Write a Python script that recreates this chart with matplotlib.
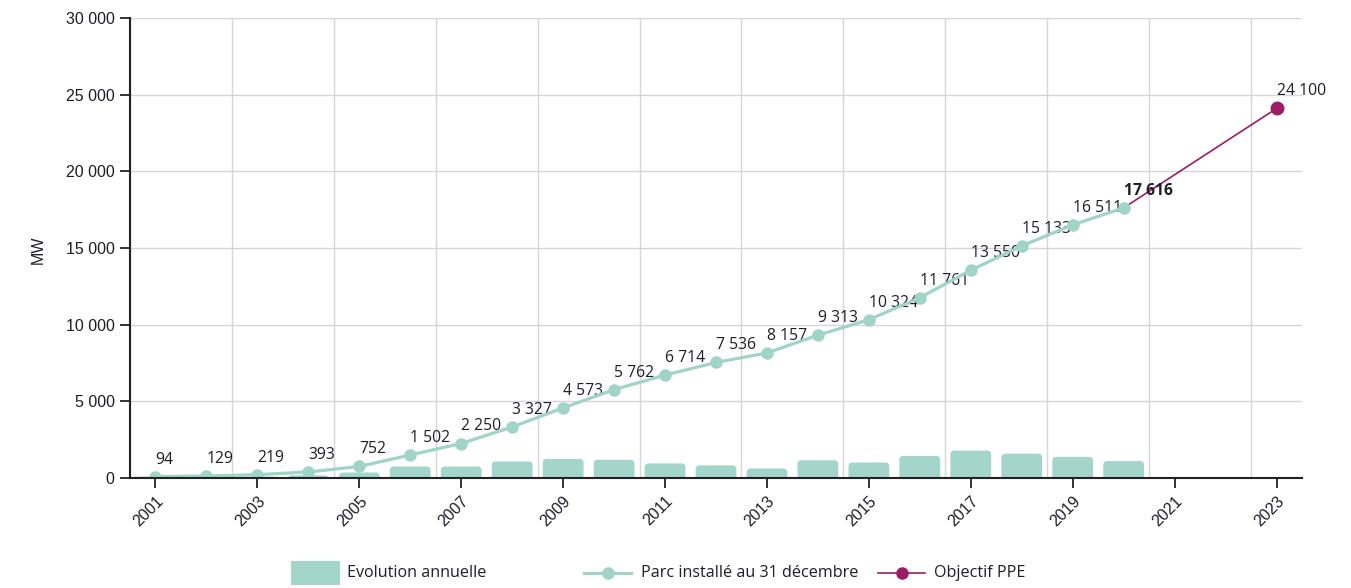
import numpy as np
import matplotlib
matplotlib.use("Agg")
import matplotlib.pyplot as plt
from matplotlib.patches import FancyBboxPatch, Rectangle
from matplotlib.lines import Line2D

# Installed capacity (MW) at 31 December
years = [2001, 2002, 2003, 2004, 2005, 2006, 2007, 2008, 2009, 2010,
         2011, 2012, 2013, 2014, 2015, 2016, 2017, 2018, 2019, 2020]
parc = [94, 129, 219, 393, 752, 1502, 2250, 3327, 4573, 5762,
        6714, 7536, 8157, 9313, 10324, 11761, 13550, 15133, 16511, 17616]
# Yearly additions (MW)
evolution = [94, 35, 90, 174, 359, 750, 748, 1077, 1246, 1189,
             952, 822, 621, 1156, 1011, 1437, 1789, 1583, 1378, 1105]
# PPE target
ppe_years = [2020, 2023]
ppe_values = [17616, 24100]

x_ticks = list(range(2001, 2024, 2))
y_ticks = [0, 5000, 10000, 15000, 20000, 25000, 30000]

TEAL_BAR = "#a3d5ca"
TEAL_LINE = "#9fd4c6"
PURPLE = "#9c1c66"
TXT = "#1e1e28"
LABEL_FONT = ["Open Sans", "DejaVu Sans"]
TICK_FONT = ["Liberation Sans", "DejaVu Sans"]


def fmt(v):
    return f"{v:,}".replace(",", " ")


fig = plt.figure(figsize=(13.51, 5.88), dpi=100)
ax = fig.add_axes([130 / 1351, 1 - 478 / 588, (1302 - 130) / 1351, (478 - 18) / 588])
ax.set_xlim(2000.5, 2023.5)
ax.set_ylim(0, 30000)

# rounded bars: convert pixel radius into data units
ax_w_px = 1302 - 130
ax_h_px = 478 - 18
x_per_px = 23.0 / ax_w_px
y_per_px = 30000.0 / ax_h_px
aspect = y_per_px / x_per_px
radius = 4 * x_per_px
bar_w = 0.8
for yr, h in zip(years, evolution):
    r = min(radius, (h / aspect) / 2) if h > 0 else 0
    patch = FancyBboxPatch((yr - bar_w / 2, -r * aspect), bar_w, h + r * aspect,
                           boxstyle=f"round,pad=0,rounding_size={radius}",
                           mutation_aspect=aspect, facecolor=TEAL_BAR,
                           edgecolor="none", zorder=2)
    ax.add_patch(patch)

# PPE trajectory
ax.plot(ppe_years, ppe_values, color=PURPLE, lw=1.2, zorder=3)
ax.plot(ppe_years[-1:], ppe_values[-1:], "o", color=PURPLE, ms=9, zorder=5)

# installed capacity
ax.plot(years, parc, color=TEAL_LINE, lw=2.3, marker="o", ms=9,
        markeredgewidth=0, zorder=5)

# value labels
for yr, v in zip(years, parc):
    bold = yr == years[-1]
    ax.annotate(fmt(v), (yr, v), xytext=(0, 9), textcoords="offset pixels",
                ha="left", va="bottom", fontsize=11.3, color=TXT,
                family=LABEL_FONT, fontweight="bold" if bold else "normal",
                zorder=4, annotation_clip=False)
ax.annotate(fmt(ppe_values[-1]), (ppe_years[-1], ppe_values[-1]), xytext=(0, 9),
            textcoords="offset pixels", ha="left", va="bottom", fontsize=11.3,
            color=TXT, family=LABEL_FONT, zorder=4, annotation_clip=False)

# axes styling
ax.set_xticks(x_ticks)
ax.set_xticklabels([str(t) for t in x_ticks], rotation=45, ha="right",
                   rotation_mode="anchor", family=TICK_FONT, fontsize=11.5, color=TXT)
ax.set_yticks(y_ticks)
ax.set_yticklabels([fmt(t) for t in y_ticks], family=TICK_FONT, fontsize=11.5, color=TXT)
ax.set_xticks(np.arange(2000.5, 2023, 2), minor=True)
ax.tick_params(axis="x", which="minor", length=0)
ax.tick_params(axis="both", which="major", length=7, width=1.3, color="#222222", pad=4)
ax.grid(True, which="minor", axis="x", color="#d6d6d6", lw=1, zorder=0)
ax.grid(True, which="major", axis="y", color="#d6d6d6", lw=1, zorder=0)
ax.grid(False, which="major", axis="x")
ax.set_axisbelow(True)
for s in ("top", "right"):
    ax.spines[s].set_visible(False)
for s in ("left", "bottom"):
    ax.spines[s].set_color("#222222")
    ax.spines[s].set_linewidth(1.5)
    ax.spines[s].set_zorder(6)

fig.text(38 / 1351, 1 - 250 / 588, "MW", rotation=90, ha="center", va="center",
         fontsize=11.5, color=TXT, family=TICK_FONT)

# legend drawn in figure coordinates
def fx(px):
    return px / 1351


def fy(py):
    return 1 - py / 588


ly = 573
fig.add_artist(Rectangle((fx(291), fy(585)), fx(340) - fx(291), fy(561) - fy(585),
                         transform=fig.transFigure, facecolor=TEAL_BAR, edgecolor="none"))
fig.text(fx(347), fy(ly), "Evolution annuelle", ha="left", va="center",
         fontsize=11.6, color=TXT, family=LABEL_FONT)
fig.add_artist(Line2D([fx(584), fx(631)], [fy(ly), fy(ly)], transform=fig.transFigure,
                      color=TEAL_LINE, lw=2.3))
fig.add_artist(Line2D([fx(608)], [fy(ly)], transform=fig.transFigure, marker="o",
                      ms=9, color=TEAL_LINE, markeredgewidth=0))
fig.text(fx(641), fy(ly), "Parc installé au 31 décembre", ha="left", va="center",
         fontsize=11.6, color=TXT, family=LABEL_FONT)
fig.add_artist(Line2D([fx(878), fx(925)], [fy(ly), fy(ly)], transform=fig.transFigure,
                      color=PURPLE, lw=1.2))
fig.add_artist(Line2D([fx(902)], [fy(ly)], transform=fig.transFigure, marker="o",
                      ms=9, color=PURPLE, markeredgewidth=0))
fig.text(fx(934), fy(ly), "Objectif PPE", ha="left", va="center",
         fontsize=11.6, color=TXT, family=LABEL_FONT)

fig.savefig("out.png", dpi=100)
